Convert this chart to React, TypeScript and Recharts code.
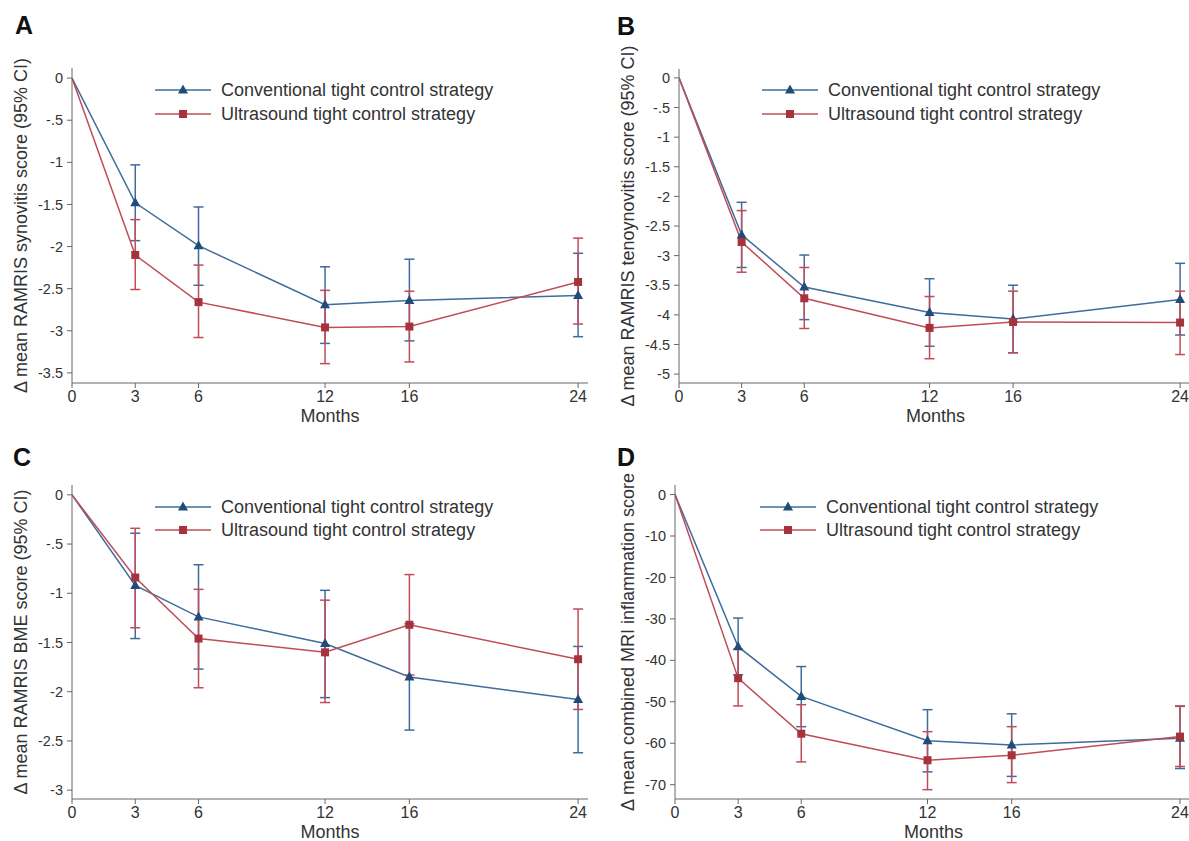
import { LineChart, Line, XAxis, YAxis, ErrorBar } from "recharts";

const MONTHS = [0, 3, 6, 12, 16, 24];
const MONTH_TICKS = [0, 3, 6, 12, 16, 24];

// A - synovitis
const SYN_CONV = [0, -1.48, -1.99, -2.69, -2.64, -2.58];
const SYN_CONV_LO = [null, -1.93, -2.46, -3.15, -3.12, -3.07];
const SYN_CONV_HI = [null, -1.03, -1.53, -2.24, -2.15, -2.08];
const SYN_US = [0, -2.1, -2.66, -2.96, -2.95, -2.42];
const SYN_US_LO = [null, -2.51, -3.08, -3.39, -3.37, -2.92];
const SYN_US_HI = [null, -1.68, -2.22, -2.52, -2.53, -1.9];
const SYN_TICKS = [0, -0.5, -1, -1.5, -2, -2.5, -3, -3.5];

// B - tenosynovitis
const TEN_CONV = [0, -2.65, -3.53, -3.96, -4.07, -3.74];
const TEN_CONV_LO = [null, -3.2, -4.08, -4.53, -4.64, -4.34];
const TEN_CONV_HI = [null, -2.1, -2.99, -3.39, -3.5, -3.13];
const TEN_US = [0, -2.77, -3.72, -4.22, -4.12, -4.13];
const TEN_US_LO = [null, -3.28, -4.23, -4.74, -4.64, -4.67];
const TEN_US_HI = [null, -2.24, -3.2, -3.69, -3.6, -3.6];
const TEN_TICKS = [0, -0.5, -1, -1.5, -2, -2.5, -3, -3.5, -4, -4.5, -5];

// C - bone marrow oedema
const BME_CONV = [0, -0.92, -1.24, -1.51, -1.85, -2.08];
const BME_CONV_LO = [null, -1.46, -1.77, -2.06, -2.39, -2.62];
const BME_CONV_HI = [null, -0.39, -0.71, -0.97, -1.31, -1.54];
const BME_US = [0, -0.84, -1.46, -1.6, -1.32, -1.67];
const BME_US_LO = [null, -1.35, -1.96, -2.11, -1.83, -2.18];
const BME_US_HI = [null, -0.34, -0.96, -1.07, -0.81, -1.16];
const BME_TICKS = [0, -0.5, -1, -1.5, -2, -2.5, -3];

// D - combined MRI inflammation
const MRI_CONV = [0, -36.7, -48.7, -59.4, -60.4, -58.8];
const MRI_CONV_LO = [null, -43.5, -56.0, -66.9, -68.0, -66.1];
const MRI_CONV_HI = [null, -29.8, -41.5, -51.9, -52.9, -51.1];
const MRI_US = [0, -44.3, -57.7, -64.1, -62.9, -58.4];
const MRI_US_LO = [null, -51.0, -64.5, -71.2, -69.5, -65.6];
const MRI_US_HI = [null, -37.3, -50.7, -57.2, -56.0, -51.0];
const MRI_TICKS = [0, -10, -20, -30, -40, -50, -60, -70];

const SERIES_NAMES = ["Conventional tight control strategy", "Ultrasound tight control strategy"];

const BLUE_LINE = "#3f6c9c";
const BLUE_MARK = "#1f4c79";
const RED_LINE = "#c04c57";
const RED_MARK = "#a5333e";
const AXIS = "#666";
const TEXT = "#333";
const FONT = "'Liberation Sans', Arial, Helvetica, sans-serif";

function buildRows(conv, convLo, convHi, us, usLo, usHi) {
  return MONTHS.map((m, i) => ({
    month: m,
    conv: conv[i],
    convErr: convLo[i] == null ? null : [conv[i] - convLo[i], convHi[i] - conv[i]],
    us: us[i],
    usErr: usLo[i] == null ? null : [us[i] - usLo[i], usHi[i] - us[i]],
  }));
}

// Stata style labels: -.5 instead of -0.5
const fmtTick = (v: number) => String(v).replace("0.", ".");

function TriangleDot(props: any) {
  const { cx, cy, payload, index } = props;
  if (cx == null || payload.month === 0) return <g key={`t${index}`} />;
  return (
    <path
      key={`t${index}`}
      d={`M${cx},${cy - 5.5}L${cx + 5},${cy + 3.5}L${cx - 5},${cy + 3.5}Z`}
      fill={BLUE_MARK}
    />
  );
}

function SquareDot(props: any) {
  const { cx, cy, payload, index } = props;
  if (cx == null || payload.month === 0) return <g key={`s${index}`} />;
  return <rect key={`s${index}`} x={cx - 4} y={cy - 4} width={8} height={8} fill={RED_MARK} />;
}

function Legend({ x, y, gap }) {
  return (
    <svg
      width={380}
      height={gap + 24}
      style={{ position: "absolute", left: x, top: y - 12, overflow: "visible" }}
    >
      <line x1={0} x2={56} y1={12} y2={12} stroke={BLUE_LINE} strokeWidth={1.5} />
      <path d="M28,6.5L33,15.5L23,15.5Z" fill={BLUE_MARK} />
      <text x={66} y={12} dominantBaseline="central" fontSize={18} fill={TEXT}>
        {SERIES_NAMES[0]}
      </text>
      <line x1={0} x2={56} y1={12 + gap} y2={12 + gap} stroke={RED_LINE} strokeWidth={1.5} />
      <rect x={24} y={8 + gap} width={8} height={8} fill={RED_MARK} />
      <text x={66} y={12 + gap} dominantBaseline="central" fontSize={18} fill={TEXT}>
        {SERIES_NAMES[1]}
      </text>
    </svg>
  );
}

function Panel({
  letter, letterX, letterY, left, top, width, height, marginTop, xAxisH, yWidth, titleGap, xMax,
  yLabel, domain, ticks, rows, legendX, legendY, legendGap,
}) {
  return (
    <>
      <div
        style={{
          position: "absolute", left: letterX, top: letterY, fontSize: 25,
          fontWeight: "bold", color: "#111", lineHeight: 1,
        }}
      >
        {letter}
      </div>
      <div style={{ position: "absolute", left, top }}>
        <LineChart
          width={width}
          height={height}
          data={rows}
          margin={{ top: marginTop, right: 0, bottom: 0, left: 0 }}
        >
          <XAxis
            dataKey="month"
            type="number"
            domain={[0, xMax]}
            ticks={MONTH_TICKS}
            allowDataOverflow
            height={xAxisH}
            stroke={AXIS}
            tickSize={5}
            tickMargin={3}
            tick={{ fill: TEXT, fontSize: 16 }}
            label={{
              content: (p: any) => (
                <text
                  x={p.viewBox.x + p.viewBox.width / 2}
                  y={p.viewBox.y + 39}
                  textAnchor="middle"
                  fontSize={18}
                  fill={TEXT}
                >
                  Months
                </text>
              ),
            }}
          />
          <YAxis
            type="number"
            domain={domain}
            ticks={ticks}
            allowDataOverflow
            width={yWidth}
            stroke={AXIS}
            tickSize={5}
            tickMargin={4}
            tickFormatter={fmtTick}
            tick={{ fill: TEXT, fontSize: 14.5 }}
            label={{
              content: (p: any) => {
                const cx = p.viewBox.x + p.viewBox.width - titleGap;
                const cy = p.viewBox.y + p.viewBox.height / 2;
                return (
                  <text
                    x={cx}
                    y={cy}
                    transform={`rotate(-90, ${cx}, ${cy})`}
                    textAnchor="middle"
                    dominantBaseline="central"
                    fontSize={18}
                    fill={TEXT}
                  >
                    {yLabel}
                  </text>
                );
              },
            }}
          />
          <Line
            dataKey="conv"
            stroke={BLUE_LINE}
            strokeWidth={1.5}
            dot={TriangleDot}
            activeDot={false}
            isAnimationActive={false}
          >
            <ErrorBar
              dataKey="convErr"
              direction="y"
              width={5}
              stroke={BLUE_LINE}
              strokeWidth={1.5}
              isAnimationActive={false}
            />
          </Line>
          <Line
            dataKey="us"
            stroke={RED_LINE}
            strokeWidth={1.5}
            dot={SquareDot}
            activeDot={false}
            isAnimationActive={false}
          >
            <ErrorBar
              dataKey="usErr"
              direction="y"
              width={5}
              stroke={RED_LINE}
              strokeWidth={1.5}
              isAnimationActive={false}
            />
          </Line>
        </LineChart>
      </div>
      <Legend x={legendX} y={legendY} gap={legendGap} />
    </>
  );
}

export default function App() {
  return (
    <div
      style={{
        position: "absolute", left: 0, top: 0, width: 1189, height: 841,
        overflow: "hidden", background: "#fff", fontFamily: FONT,
      }}
    >
      <Panel
        letter="A" letterX={15} letterY={13}
        left={0} top={0} width={588} height={430} marginTop={68} xAxisH={47} yWidth={72} titleGap={51}
        xMax={24.47}
        yLabel="Δ mean RAMRIS synovitis score (95% CI)"
        domain={[-3.62, 0.12]} ticks={SYN_TICKS}
        rows={buildRows(SYN_CONV, SYN_CONV_LO, SYN_CONV_HI, SYN_US, SYN_US_LO, SYN_US_HI)}
        legendX={155} legendY={90} legendGap={24}
      />
      <Panel
        letter="B" letterX={617} letterY={14}
        left={600} top={0} width={592} height={430} marginTop={69} xAxisH={47} yWidth={79} titleGap={51}
        xMax={24.57}
        yLabel="Δ mean RAMRIS tenoynovitis score (95% CI)"
        domain={[-5.15, 0.15]} ticks={TEN_TICKS}
        rows={buildRows(TEN_CONV, TEN_CONV_LO, TEN_CONV_HI, TEN_US, TEN_US_LO, TEN_US_HI)}
        legendX={762} legendY={90} legendGap={24}
      />
      <Panel
        letter="C" letterX={13} letterY={445}
        left={0} top={417} width={588} height={424} marginTop={68} xAxisH={42} yWidth={72} titleGap={51}
        xMax={24.47}
        yLabel="Δ mean RAMRIS BME score (95% CI)"
        domain={[-3.09, 0.1]} ticks={BME_TICKS}
        rows={buildRows(BME_CONV, BME_CONV_LO, BME_CONV_HI, BME_US, BME_US_LO, BME_US_HI)}
        legendX={155} legendY={507} legendGap={23}
      />
      <Panel
        letter="D" letterX={617} letterY={445}
        left={600} top={417} width={592} height={424} marginTop={68} xAxisH={42} yWidth={75} titleGap={47}
        xMax={24.57}
        yLabel="Δ mean combined MRI inflammation score"
        domain={[-73.45, 2.3]} ticks={MRI_TICKS}
        rows={buildRows(MRI_CONV, MRI_CONV_LO, MRI_CONV_HI, MRI_US, MRI_US_LO, MRI_US_HI)}
        legendX={760} legendY={507} legendGap={23}
      />
    </div>
  );
}
